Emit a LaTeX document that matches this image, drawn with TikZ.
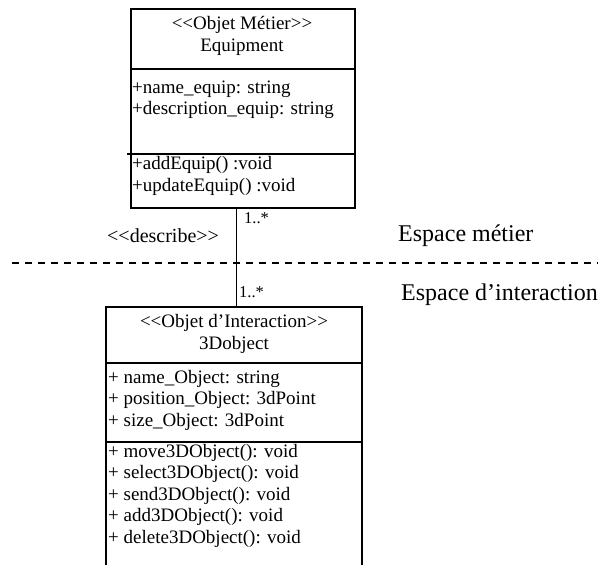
\documentclass[tikz,border=0pt]{standalone}
\usepackage{fontspec}
\setmainfont{Liberation Serif}
% keep "<<" and ">>" as two separate signs
\newcommand{\lguil}{<\kern0pt<}
\newcommand{\rguil}{>\kern0pt>}
\begin{document}
\begin{tikzpicture}[x=1pt,y=-1pt,
  box/.style={draw, line width=1.8pt, rectangle, inner sep=0pt, anchor=north west},
  sep/.style={line width=1.8pt},
  member/.style={anchor=base west, inner sep=0pt, font=\fontsize{19}{21.5}\selectfont},
  title/.style={anchor=base, inner sep=0pt, font=\fontsize{19}{21.5}\selectfont},
  mult/.style={anchor=base west, inner sep=0pt, font=\fontsize{16.5}{19}\selectfont},
  space/.style={anchor=base west, inner sep=0pt, font=\fontsize{24}{28}\selectfont},
  link/.style={line width=1.8pt},
  divider/.style={line width=1.8pt, dash pattern=on 7pt off 6pt}]
\useasboundingbox (0,0) rectangle (598,565);
\clip (0,0) rectangle (598,565);

% business class
\node[box, minimum width=224pt, minimum height=199pt] (equip) at (130,8) {};
\draw[sep] (equip.west |- 0,69) -- (equip.east |- 0,69);
\draw[sep] ([xshift=-3pt]equip.west |- 0,154) -- (equip.east |- 0,154);
\node[title] (et1) at (242,29) {\lguil Objet Métier\rguil};
\node[title] (et2) at (242,51) {Equipment};
\node[member] (ea1) at (132,93) {+name\_equip: string};
\node[member] (ea2) at (132,114.5) {+description\_equip: string};
\node[member] (em1) at (132,169) {+addEquip() :void};
\node[member] (em2) at (132,191) {+updateEquip() :void};

% interaction class (runs past the lower edge)
\node[box, minimum width=256pt, minimum height=280pt] (obj) at (105,306) {};
\draw[sep] (obj.west |- 0,363) -- (obj.east |- 0,363);
\draw[sep] (obj.west |- 0,442) -- (obj.east |- 0,442);
\node[title] (ot1) at (234,327) {\lguil Objet d’Interaction\rguil};
\node[title] (ot2) at (234,349) {3Dobject};
\node[member] (oa1) at (108,383) {+ name\_Object: string};
\node[member] (oa2) at (108,404.5) {+ position\_Object: 3dPoint};
\node[member] (oa3) at (108,426) {+ size\_Object: 3dPoint};
\node[member] (om1) at (108,457) {+ move3DObject(): void};
\node[member] (om2) at (108,478.5) {+ select3DObject(): void};
\node[member] (om3) at (108,500) {+ send3DObject(): void};
\node[member] (om4) at (108,521.5) {+ add3DObject(): void};
\node[member] (om5) at (108,543) {+ delete3DObject(): void};

% association
\coordinate (lnk) at (236.5,0);
\draw[link] (lnk |- equip.south) -- (lnk |- obj.north);
\node[mult] (m1) at (244,223) {1..*};
\node[mult] (m2) at (239,297) {1..*};
\node[anchor=base west, inner sep=0pt, font=\fontsize{20}{24}\selectfont] (rel) at (107,242) {\lguil describe\rguil};

% layer boundary
\coordinate (dl) at (12,263);
\coordinate (dr) at (598,263);
\draw[divider] (dl) -- (dr);
\node[space] (s1) at (398,241) {Espace métier};
\node[space] (s2) at (401,300) {Espace d’interaction};
\end{tikzpicture}
\end{document}
